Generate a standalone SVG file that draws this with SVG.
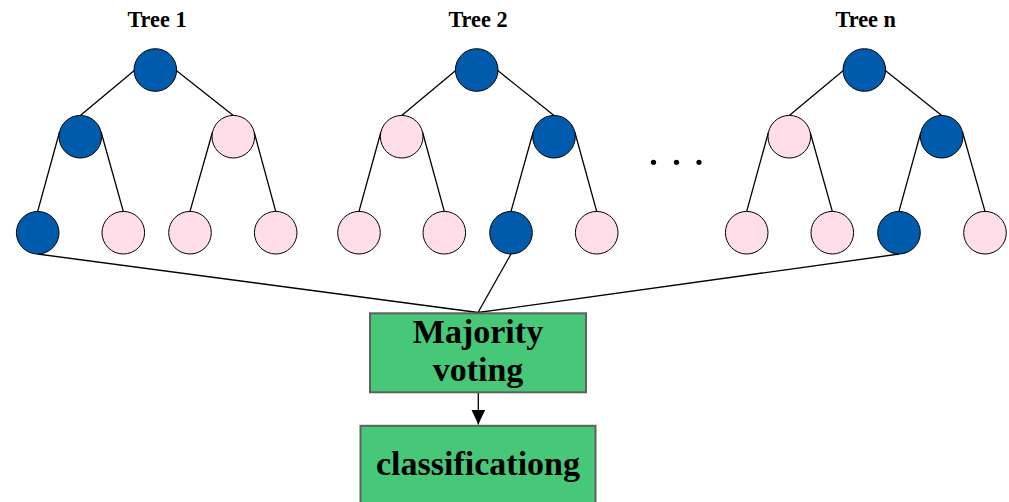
<svg xmlns="http://www.w3.org/2000/svg" width="1009" height="502" viewBox="0 0 1009 502">
<style>
.b{fill:#005BAC;stroke:#000;stroke-width:1}
.p{fill:#FFDDE9;stroke:#000;stroke-width:1}
.e{stroke:#000;stroke-width:1.3;fill:none}
.t{font-family:"Liberation Serif",serif;font-weight:bold;fill:#000;text-anchor:middle}
.box{fill:#47C878;stroke:#606060;stroke-width:2}
</style>
<defs>
<marker id="ah" markerWidth="15" markerHeight="14" refX="15" refY="7" orient="auto" markerUnits="userSpaceOnUse">
<path d="M0,0 L15,7 L0,14 Z" fill="#000"/>
</marker>
</defs>
<g id="connectors">
<path class="e" d="M134.3,70.5 L80.3,115.4 M176.3,70.5 L233.3,115.4 M59.5,132 L37.7,211.4 M101.1,132 L123.3,211.4 M212.5,132 L190,211.4 M254.1,132 L275.7,211.4"/>
<path class="e" d="M455.7,70.5 L401.7,115.4 M497.7,70.5 L554,115.4 M380.9,132 L359,211.4 M422.5,132 L444.3,211.4 M533.2,132 L511,211.4 M574.8,132 L596.7,211.4"/>
<path class="e" d="M843.3,70.5 L789.3,115.4 M885.3,70.5 L941.7,115.4 M768.5,132 L746.7,211.4 M810.1,132 L832.3,211.4 M920.9,132 L899,211.4 M962.5,132 L985,211.4"/>
<path class="e" d="M37.7,254 L478,312.5 M511,254 L478,312.5 M899,254 L478,312.5"/>
<line class="e" x1="478.3" y1="393" x2="478.3" y2="424.5" marker-end="url(#ah)"/>
</g>
<g id="tree1">
<text class="t" x="157" y="27.3" font-size="22.3">Tree 1</text>
<circle class="b" cx="155.3" cy="70" r="21.3"/>
<circle class="b" cx="80.3" cy="136.7" r="21.3"/>
<circle class="p" cx="233.3" cy="136.7" r="21.3"/>
<circle class="b" cx="37.7" cy="232.7" r="21.3"/>
<circle class="p" cx="123.3" cy="232.7" r="21.3"/>
<circle class="p" cx="190" cy="232.7" r="21.3"/>
<circle class="p" cx="275.7" cy="232.7" r="21.3"/>
</g>
<g id="tree2">
<text class="t" x="478" y="27.3" font-size="22.3">Tree 2</text>
<circle class="b" cx="476.7" cy="70" r="21.3"/>
<circle class="p" cx="401.7" cy="136.7" r="21.3"/>
<circle class="b" cx="554" cy="136.7" r="21.3"/>
<circle class="p" cx="359" cy="232.7" r="21.3"/>
<circle class="p" cx="444.3" cy="232.7" r="21.3"/>
<circle class="b" cx="511" cy="232.7" r="21.3"/>
<circle class="p" cx="596.7" cy="232.7" r="21.3"/>
</g>
<g id="treen">
<text class="t" x="865.7" y="27.3" font-size="22.3">Tree n</text>
<circle class="b" cx="864.3" cy="70" r="21.3"/>
<circle class="p" cx="789.3" cy="136.7" r="21.3"/>
<circle class="b" cx="941.7" cy="136.7" r="21.3"/>
<circle class="p" cx="746.7" cy="232.7" r="21.3"/>
<circle class="p" cx="832.3" cy="232.7" r="21.3"/>
<circle class="b" cx="899" cy="232.7" r="21.3"/>
<circle class="p" cx="985" cy="232.7" r="21.3"/>
</g>
<g id="dots">
<circle cx="653.5" cy="162.3" r="2.6" fill="#000"/>
<circle cx="676.5" cy="162.3" r="2.6" fill="#000"/>
<circle cx="699" cy="162.3" r="2.6" fill="#000"/>
</g>
<g id="voting">
<rect class="box" x="370" y="313.3" width="216" height="79"/>
<text class="t" x="478" y="343.3" font-size="34">Majority</text>
<text class="t" x="478" y="381" font-size="34">voting</text>
</g>
<g id="classification">
<rect class="box" x="360.5" y="425.8" width="235" height="90"/>
<text class="t" x="478" y="475" font-size="34">classificationg</text>
</g>
</svg>
